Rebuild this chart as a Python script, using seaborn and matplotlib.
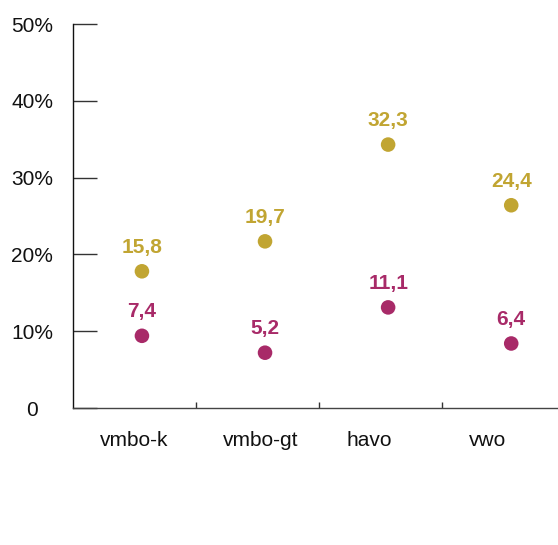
import pandas as pd
import matplotlib
matplotlib.use("Agg")
import matplotlib.pyplot as plt
import seaborn as sns

# data
categories = ["vmbo-k", "vmbo-gt", "havo", "vwo"]
gold_values = [15.8, 19.7, 32.3, 24.4]
magenta_values = [7.4, 5.2, 11.1, 6.4]
y_ticks = [0, 10, 20, 30, 40, 50]
y_tick_labels = ["0", "10%", "20%", "30%", "40%", "50%"]

GOLD = "#C1A532"
MAGENTA = "#A82A68"
palette = {"goud": GOLD, "paars": MAGENTA}

# the original draws its dots about two points above the value, slightly right of centre
Y_SHIFT = 2.0
X_SHIFT = 0.06

sns.set_style("ticks")
plt.rcParams["font.family"] = ["Liberation Sans", "DejaVu Sans"]

df = pd.DataFrame({
    "categorie": categories * 2,
    "waarde": gold_values + magenta_values,
    "reeks": ["goud"] * len(gold_values) + ["paars"] * len(magenta_values),
})
df["x"] = df["categorie"].map({c: i for i, c in enumerate(categories)}) + X_SHIFT
df["y"] = df["waarde"] + Y_SHIFT

fig = plt.figure(figsize=(5.58, 5.45), dpi=100)
ax = fig.add_axes([73 / 558, 1 - 408 / 545, (558 - 73) / 558, 384 / 545])

sns.scatterplot(data=df, x="x", y="y", hue="reeks", palette=palette,
                s=110, linewidth=0, legend=False, ax=ax, zorder=3)

for _, row in df.iterrows():
    ax.annotate(f"{row['waarde']:.1f}".replace(".", ","), (row["x"], row["y"]),
                xytext=(0, 10.5), textcoords="offset points",
                ha="center", va="bottom", fontsize=15, fontweight="bold",
                color=palette[row["reeks"]])

ax.set_xlim(-0.5, 3.44)
ax.set_ylim(0, 50)
ax.set_xlabel("")
ax.set_ylabel("")

# y axis: inward ticks, centred labels
ax.set_yticks(y_ticks, y_tick_labels)
ax.tick_params(axis="y", direction="in", length=17.3, width=1.0, pad=29.5,
               labelsize=15, color="#333333", labelcolor="#111111")
for lab in ax.get_yticklabels():
    lab.set_ha("center")

# x axis: ticks at category boundaries, labels as minor ticks
ax.set_xticks([i + 0.5 for i in range(len(categories) - 1)], [""] * (len(categories) - 1))
ax.tick_params(axis="x", which="major", direction="in", length=4.3, width=1.0, color="#333333")
ax.set_xticks([i - 0.5 + 0.22 for i in range(len(categories))], categories, minor=True)
ax.tick_params(axis="x", which="minor", length=0, pad=16.5, labelsize=15, labelcolor="#111111")
for lab in ax.get_xticklabels(minor=True):
    lab.set_ha("left")

sns.despine(ax=ax)
ax.spines["left"].set_color("#111111")
ax.spines["left"].set_linewidth(1.0)
ax.spines["bottom"].set_color("#444444")
ax.spines["bottom"].set_linewidth(1.0)

fig.savefig("out.png", dpi=100)
